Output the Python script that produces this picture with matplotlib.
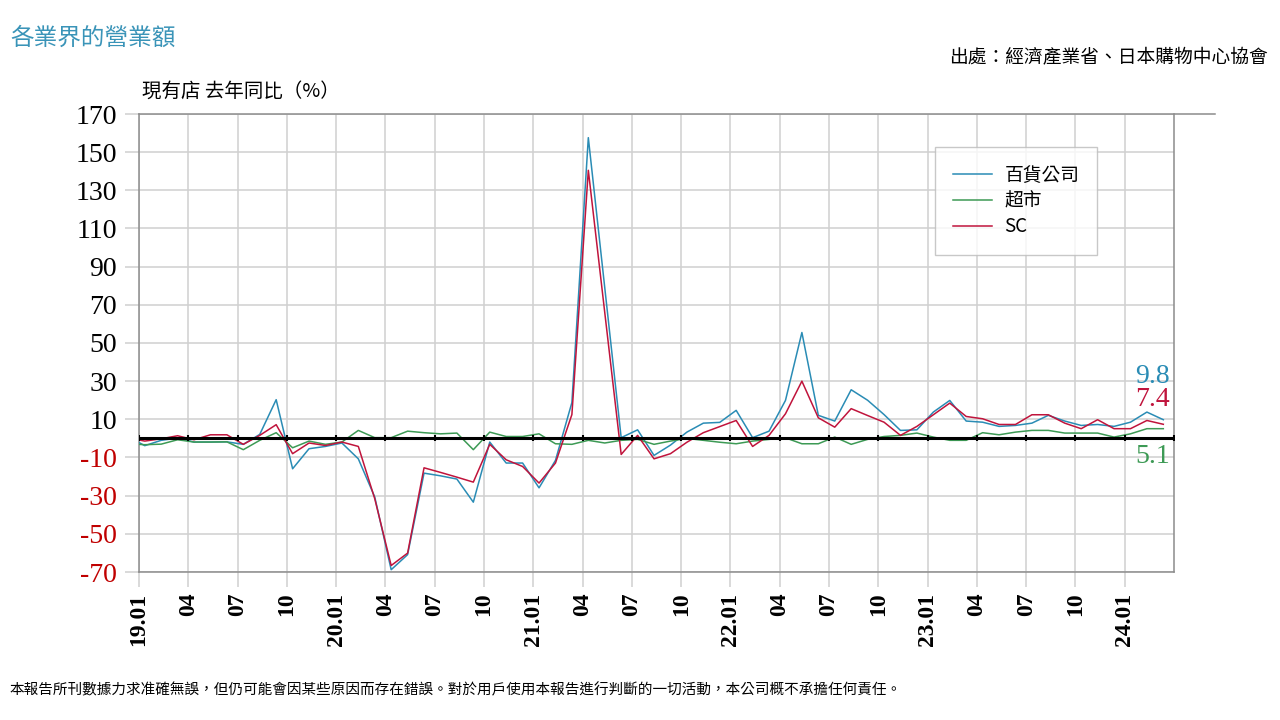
# ── 套件匯入 ──────────────────────────────────────────────────────────────────
import numpy as np
import matplotlib.pyplot as plt
from matplotlib.lines import Line2D

plt.rcParams['font.family'] = ['Noto Sans CJK TC', 'DejaVu Sans']

# ── 資料（現有店 去年同比 %，18.12 ~ 24.03，第一點落在圖框外）──────────────────
dept = [0.9,
        -3.8, -1.0, 0.2, -1.9, -1.9, -1.8, -3.1, 2.1, 20.3, -15.9, -5.4, -4.2,
        -2.4, -10.7, -30.7, -68.8, -60.9, -18.2, -19.6, -21.3, -33.4, -1.9, -12.9, -12.9,
        -25.9, -11.5, 18.8, 157.6, 79.0, 0.4, 4.5, -8.9, -3.5, 3.3, 8.0, 8.4,
        14.7, 0.4, 3.8, 19.9, 55.5, 12.1, 9.1, 25.5, 20.0, 12.5, 4.2, 4.5,
        13.8, 19.9, 9.1, 8.5, 6.3, 6.8, 8.0, 12.1, 9.1, 6.8, 7.3, 6.3,
        8.5, 13.8, 9.8]
superm = [-2.8,
          -3.3, -3.0, -0.7, -1.9, -1.9, -1.8, -5.9, -1.0, 3.0, -4.9, -1.4, -3.1,
          -1.9, 4.2, 0.4, 0.4, 3.8, 3.0, 2.4, 2.8, -5.9, 3.3, 1.0, 1.0,
          2.4, -2.8, -3.1, -1.0, -2.4, -1.0, -0.5, -3.1, -1.4, 0.0, -1.0, -2.0,
          -2.8, -1.4, -0.5, 0.3, -2.8, -2.8, 0.7, -3.1, -0.5, 1.0, 1.6, 2.8,
          0.7, -1.0, -1.0, 3.0, 1.9, 3.3, 4.2, 4.2, 2.8, 2.8, 2.8, 0.7,
          2.4, 5.1, 5.1]
sc = [0.3,
      -1.4, -0.2, 1.4, -0.7, 1.9, 1.9, -3.1, 1.6, 7.2, -8.0, -2.4, -3.7,
      -1.9, -4.2, -31.6, -66.6, -60.1, -15.4, -17.8, -20.3, -22.9, -3.1, -11.2, -14.7,
      -23.4, -12.9, 12.5, 140.5, 66.0, -8.4, 1.6, -10.7, -8.0, -2.0, 3.0, 6.2,
      9.4, -4.2, 1.6, 12.9, 30.0, 10.8, 5.9, 15.6, 12.0, 8.5, 1.6, 6.3,
      12.4, 18.5, 11.5, 10.3, 7.3, 7.3, 12.4, 12.4, 8.0, 5.1, 9.8, 5.1,
      5.1, 9.4, 7.4]

series_names = ['百貨公司', '超市', 'SC']
xtick_labels = ['19.01', '04', '07', '10', '20.01', '04', '07', '10',
                '21.01', '04', '07', '10', '22.01', '04', '07', '10',
                '23.01', '04', '07', '10', '24.01']
yticks = [170, 150, 130, 110, 90, 70, 50, 30, 10, -10, -30, -50, -70]

# ── 顏色 ──────────────────────────────────────────────────────────────────────
C_BLUE, C_GREEN, C_RED = '#2a8cb5', '#3d9a55', '#c0143c'
C_GRID = '#d0d0d0'

# ── 繪圖 ──────────────────────────────────────────────────────────────────────
fig = plt.figure(figsize=(12.8, 7.2), dpi=100)
ax = fig.add_axes([139 / 1280, 1 - 572 / 720, (1174 - 139) / 1280, (572 - 114) / 720])

x = np.arange(len(dept)) - 1 + 0.35
ax.plot(x, dept, color=C_BLUE, lw=1.1, label=series_names[0], zorder=3)
ax.plot(x, superm, color=C_GREEN, lw=1.1, label=series_names[1], zorder=3)
ax.plot(x, sc, color=C_RED, lw=1.1, label=series_names[2], zorder=4)

# 0 軸粗黑線
ax.axhline(0, color='black', lw=2.2, zorder=5)
ax.plot(np.arange(0, 64, 3), np.zeros(22), ls='none', marker='|',
        color='black', ms=5, mew=1.5, zorder=5)

ax.set_xlim(0, 63)
ax.set_ylim(-70, 170)
ax.set_xticks(np.arange(0, 61, 3))
ax.set_xticklabels(xtick_labels, rotation=90, fontfamily='Liberation Serif',
                   fontweight='bold', fontsize=17)
ax.set_xticks([63], minor=True)
ax.set_yticks(yticks)
ax.set_yticklabels([str(v) for v in yticks], fontfamily='Liberation Serif',
                   fontsize=20)
for lab, v in zip(ax.get_yticklabels(), yticks):
    lab.set_color('black' if v > 0 else '#c00000')

ax.grid(True, color=C_GRID, lw=1.1, zorder=0)
ax.set_axisbelow(True)
ax.tick_params(axis='x', length=11, width=1.1, color=C_GRID, pad=4)
ax.tick_params(axis='x', which='minor', length=0)
ax.tick_params(axis='y', length=10, width=1.1, color=C_GRID, pad=6)
for s in ax.spines.values():
    s.set_color('#8c8c8c')
    s.set_linewidth(1.1)
ax.spines['top'].set_visible(False)
ax.add_line(Line2D([0, (1215 - 139) / (1174 - 139)], [1, 1], transform=ax.transAxes,
                   color='#8c8c8c', lw=1.1, clip_on=False))

# 最新值標籤
ax.text(61.7, 32.5, f'{dept[-1]:.1f}', color=C_BLUE, ha='center', va='center',
        fontfamily='Liberation Serif', fontsize=20)
ax.text(61.7, 20.4, f'{sc[-1]:.1f}', color=C_RED, ha='center', va='center',
        fontfamily='Liberation Serif', fontsize=20)
ax.text(61.7, -9.4, f'{superm[-1]:.1f}', color=C_GREEN, ha='center', va='center',
        fontfamily='Liberation Serif', fontsize=20)

# 圖例
leg = ax.legend(loc='upper left', bbox_to_anchor=(935 / 1280, 1 - 147 / 720),
                bbox_transform=fig.transFigure, fontsize=13.5, frameon=True,
                fancybox=False, edgecolor='#bbbbbb', borderpad=0.95,
                borderaxespad=0, handlelength=2.1, handletextpad=0.65,
                labelspacing=0.25)
leg.get_frame().set_linewidth(1.0)

# 文字
fig.text(10 / 1280, 1 - 38 / 720, '各業界的營業額', color='#3a94b8', fontsize=17,
         va='center', ha='left')
fig.text(1268 / 1280, 1 - 58 / 720, '出處：經濟產業省、日本購物中心協會', color='black',
         fontsize=13.5, va='center', ha='right')
fig.text(142 / 1280, 1 - 91 / 720, '現有店 去年同比（%）', color='black', fontsize=14,
         va='center', ha='left')
fig.text(10 / 1280, 1 - 690 / 720,
         '本報告所刊數據力求准確無誤，但仍可能會因某些原因而存在錯誤。'
         '對於用戶使用本報告進行判斷的一切活動，本公司概不承擔任何責任。',
         color='black', fontsize=10.5, va='center', ha='left')

plt.savefig('out.png', dpi=100)
